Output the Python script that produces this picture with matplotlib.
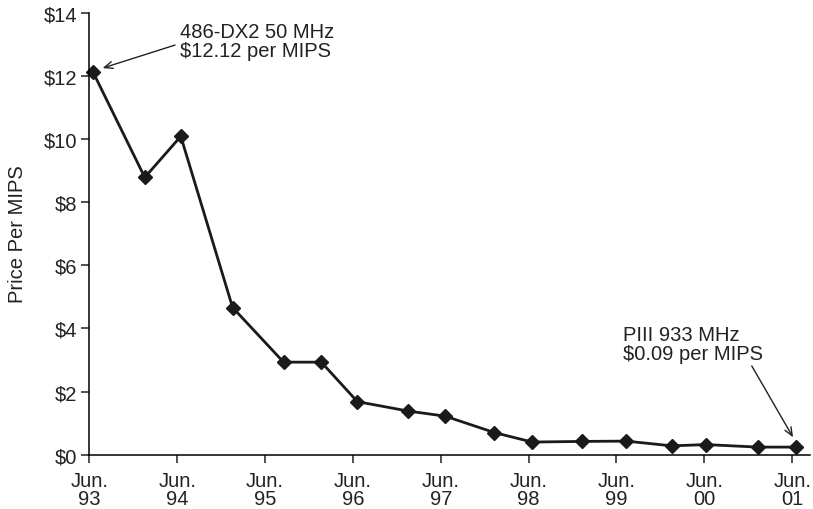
import matplotlib
matplotlib.use('Agg')
import matplotlib.pyplot as plt

# years after Jun. 93
years = [0.04, 0.63, 1.04, 1.63, 2.21, 2.64, 3.05, 3.63, 4.05, 4.61,
         5.04, 5.61, 6.11, 6.63, 7.02, 7.61, 8.04]
price = [12.12, 8.78, 10.08, 4.66, 2.93, 2.93, 1.68, 1.38, 1.22, 0.70,
         0.40, 0.42, 0.43, 0.28, 0.32, 0.24, 0.24]

tick_pos = [0, 1, 2, 3, 4, 5, 6, 7, 8]
tick_labels = ['Jun.\n93', 'Jun.\n94', 'Jun.\n95', 'Jun.\n96', 'Jun.\n97',
               'Jun.\n98', 'Jun.\n99', 'Jun.\n00', 'Jun.\n01']
y_ticks = [0, 2, 4, 6, 8, 10, 12, 14]

plt.rcParams['font.family'] = ['Liberation Sans', 'DejaVu Sans']
fs = 14.5
tc = '#222222'

fig = plt.figure(figsize=(8.13, 5.10), dpi=100)
ax = fig.add_axes([0.11, 0.1065, 0.886, 0.867])

ax.plot(years, price, linestyle='-', marker='D', color='#1a1a1a',
        linewidth=2.0, markersize=7.5, clip_on=False)

ax.set_xlim(0, 8.2)
ax.set_ylim(0, 14)
ax.set_xticks(tick_pos)
ax.set_xticklabels(tick_labels, fontsize=fs, color=tc, linespacing=0.95)
ax.set_yticks(y_ticks)
ax.set_yticklabels(['$%d' % v for v in y_ticks], fontsize=fs, color=tc)
ax.set_ylabel('Price Per MIPS', fontsize=fs, color=tc, labelpad=12)

ax.spines['top'].set_visible(False)
ax.spines['right'].set_visible(False)
ax.spines['left'].set_linewidth(1.1)
ax.spines['bottom'].set_linewidth(1.1)
ax.tick_params(direction='out', length=6, width=1.1, color=tc, pad=3)
ax.tick_params(axis='x', pad=5.5)

ax.text(1.03, 13.7, '486-DX2 50 MHz\n$12.12 per MIPS', fontsize=fs,
        color=tc, ha='left', va='top', linespacing=1.0)
ax.annotate('', xy=(0.15, 12.24), xytext=(0.975, 12.97),
            arrowprops=dict(arrowstyle='->,head_length=0.6,head_width=0.25',
                            lw=1.0, color=tc, shrinkA=0, shrinkB=0))

ax.text(6.07, 4.12, 'PIII 933 MHz\n$0.09 per MIPS', fontsize=fs,
        color=tc, ha='left', va='top', linespacing=1.0)
ax.annotate('', xy=(8.01, 0.55), xytext=(7.54, 2.81),
            arrowprops=dict(arrowstyle='->,head_length=0.6,head_width=0.25',
                            lw=1.0, color=tc, shrinkA=0, shrinkB=0))

fig.savefig('out.png', dpi=100)
